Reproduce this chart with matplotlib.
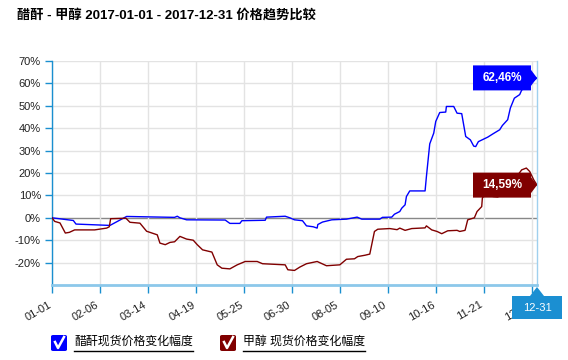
import numpy as np
import matplotlib
matplotlib.use('Agg')
import matplotlib.pyplot as plt
import matplotlib.transforms as mtransforms
from matplotlib.patches import Polygon, FancyBboxPatch
from matplotlib.lines import Line2D

plt.rcParams['font.family'] = ['Liberation Sans', 'Noto Sans CJK SC', 'DejaVu Sans']

#Data (day offset from 2017-01-01, change in %)
title = '醋酐 - 甲醇 2017-01-01 - 2017-12-31 价格趋势比较'
series_names = ['醋酐现货价格变化幅度', '甲醇 现货价格变化幅度']
series_colors = ['#0000ff', '#800000']
last_labels = ['62,46%', '14,59%']

blue_days = [0, 16, 18, 43.5, 56, 73.5, 92, 94, 96, 101, 130, 133.5, 141, 142.5, 160, 161, 175,
             178.5, 182, 188, 191, 196, 199, 199.5, 203, 210, 221, 229, 232.5, 246, 248, 255, 257,
             261, 262.5, 265, 266, 268.5, 280, 281, 283.5, 286.5, 288, 291, 295.5, 296, 301.5, 304,
             307.5, 310.5, 314, 316.5, 318, 320, 327, 331, 336, 338, 342, 344, 347, 351, 352.5, 364]
blue_vals = [0.0, -1.2, -2.8, -3.4, 0.6, 0.4, 0.2, 0.7, 0.0, -0.9, -1.0, -2.5, -2.5, -1.3, -1.1, 0.3, 0.7,
             0.0, -0.9, -1.3, -3.6, -4.0, -4.6, -3.0, -1.9, -0.9, -0.6, 0.3, -0.6, -0.6, 0.2, 0.3, 1.6,
             2.8, 4.3, 5.8, 9.5, 12.0, 12.0, 18.4, 33.0, 37.8, 43.0, 47.0, 47.2, 49.7, 49.7, 46.7,
             46.5, 36.3, 34.8, 32.0, 31.8, 34.0, 36.0, 37.5, 39.3, 41.2, 43.8, 49.0, 53.4, 55.0, 57.0, 62.46]

red_days = [0, 2, 6, 10, 13, 17, 32, 41, 43, 44, 55.5, 58.5, 66, 71, 79, 81, 85, 88.5, 92, 96, 101,
            106, 109, 113, 120, 124, 127.5, 133.5, 139, 145, 154, 158, 175, 177, 182, 186, 191, 199,
            206, 216, 221, 227, 229.5, 235, 238.5, 242, 244.5, 253.5, 259, 261, 265, 270, 280, 281,
            285, 289, 292.5, 297, 304, 306, 310, 312, 317, 319, 322.5, 323, 325.5, 331, 334.5, 337.5,
            345, 349.5, 352.5, 356, 358.5, 361.5, 364]
red_vals = [0.0, -1.6, -2.3, -6.8, -6.5, -5.4, -5.4, -4.6, -4.0, -0.4, -0.2, -2.0, -2.4, -6.0, -7.6,
            -11.3, -12.0, -11.0, -10.7, -8.3, -9.5, -10.0, -12.0, -14.3, -15.3, -21.0, -22.5, -22.8,
            -21.0, -19.5, -19.5, -20.5, -21.0, -23.2, -23.5, -22.0, -20.5, -19.5, -21.4, -21.0, -18.5,
            -18.3, -17.3, -16.7, -16.2, -6.1, -5.1, -4.8, -5.3, -4.6, -5.6, -4.8, -4.5, -3.6, -5.4,
            -6.1, -7.1, -5.8, -5.6, -6.1, -5.6, -0.9, 0.0, 2.8, 5.0, 8.8, 11.0, 9.5, 9.3, 10.3, 14.0,
            19.0, 21.4, 22.2, 20.7, 17.0, 14.59]

y_ticks = [-20, -10, 0, 10, 20, 30, 40, 50, 60, 70]
x_tick_step = 36
start = np.datetime64('2017-01-01')
end_label = '12-31'

axis_blue = '#1a8fd0'
W, H = 568, 360
fig = plt.figure(figsize=(W / 100, H / 100), dpi=100)
ax = fig.add_axes([52 / W, 1 - 285 / H, 485 / W, 224 / H])

x_ticks = np.arange(0, 365, x_tick_step)
x_labels = [str(start + np.timedelta64(int(d), 'D'))[5:] for d in x_ticks]

ax.set_xlim(0, 364)
ax.set_ylim(-30, 70)
ax.set_yticks(y_ticks)
ax.set_yticklabels([f'{v}%' for v in y_ticks])
ax.set_xticks(x_ticks)
ax.set_xticklabels(x_labels, rotation=30, ha='right', va='top', rotation_mode='anchor')

for v in y_ticks:
    ax.axhline(v, color='#888888' if v == 0 else '#e3e3e3', lw=1.0, zorder=1)
for d in x_ticks:
    ax.axvline(d, color='#e3e3e3', lw=1.0, zorder=1)

ax.plot(blue_days, blue_vals, color=series_colors[0], lw=1.0, zorder=3)
ax.plot(red_days, red_vals, color=series_colors[1], lw=1.0, zorder=3)

ax.spines['top'].set_visible(False)
ax.spines['left'].set_color(axis_blue)
ax.spines['left'].set_linewidth(1.0)
ax.spines['right'].set_color('#9fd0ee')
ax.spines['right'].set_linewidth(1.0)
ax.spines['bottom'].set_color('#8cc8ea')
ax.spines['bottom'].set_linewidth(2.0)
ax.tick_params(axis='both', colors=axis_blue, width=1, labelcolor='#222222')
ax.tick_params(axis='x', length=5.5, pad=5, labelsize=8)
ax.tick_params(axis='y', length=5, pad=3, labelsize=8)
shift = mtransforms.ScaledTranslation(-3 / 72, 0, fig.dpi_scale_trans)
for lab in ax.get_xticklabels():
    lab.set_transform(lab.get_transform() + shift)

# value labels at the line ends
px_x = 364 / 485.0   # days per pixel
px_y = 100 / 224.0   # % per pixel
for vals, days, col, lab in [(blue_vals, blue_days, series_colors[0], last_labels[0]),
                             (red_vals, red_days, series_colors[1], last_labels[1])]:
    tx, ty = days[-1], vals[-1]
    bw, bh, tip = 58 * px_x, 25 * px_y, 6 * px_x
    poly = Polygon([(tx - tip - bw, ty + bh / 2), (tx - tip, ty + bh / 2), (tx - tip, ty + 8 * px_y),
                    (tx, ty), (tx - tip, ty - 8 * px_y), (tx - tip, ty - bh / 2),
                    (tx - tip - bw, ty - bh / 2)], closed=True, facecolor=col, edgecolor='none',
                   zorder=5, clip_on=False)
    ax.add_patch(poly)
    ax.text(tx - tip - bw / 2, ty, lab, color='white', fontsize=8.5, fontweight='bold',
            ha='center', va='center', zorder=6)

# end date label under the axis
fx, fy = 537, 287
fig.patches.append(Polygon([[(fx - 25) / W, 1 - 296 / H], [(fx - 7) / W, 1 - 296 / H], [fx / W, 1 - fy / H],
                            [(fx + 7) / W, 1 - 296 / H], [(fx + 25) / W, 1 - 296 / H],
                            [(fx + 25) / W, 1 - 319 / H], [(fx - 25) / W, 1 - 319 / H]],
                           closed=True, transform=fig.transFigure, facecolor='#1b8fd2',
                           edgecolor='none', zorder=10))
fig.text(fx / W, 1 - 308 / H, end_label, color='white', fontsize=8, ha='center', va='center', zorder=11)

# title
fig.text(17 / W, 1 - 15 / H, title, fontsize=9.5, fontweight='bold', ha='left', va='center')

# legend with check boxes
fig.canvas.draw()
renderer = fig.canvas.get_renderer()
for i, (name, col) in enumerate(zip(series_names, series_colors)):
    bx = [51, 220][i]
    fig.patches.append(FancyBboxPatch((bx / W, 1 - 351 / H), 16 / W, 16 / H,
                                      boxstyle='round,pad=0,rounding_size=0.004',
                                      transform=fig.transFigure, facecolor=col, edgecolor='none'))
    fig.lines.append(Line2D([(bx + 4) / W, (bx + 7) / W, (bx + 13) / W],
                            [1 - 342 / H, 1 - 348 / H, 1 - 337 / H],
                            transform=fig.transFigure, color='white', lw=1.8))
    t = fig.text((bx + 23) / W, 1 - 342 / H, name, fontsize=8.6, ha='left', va='center', color='black')
    bb = t.get_window_extent(renderer)
    fig.lines.append(Line2D([bb.x0 / W, bb.x1 / W], [1 - 351 / H, 1 - 351 / H],
                            transform=fig.transFigure, color='black', lw=1.0))

fig.savefig('out.png', dpi=100)
